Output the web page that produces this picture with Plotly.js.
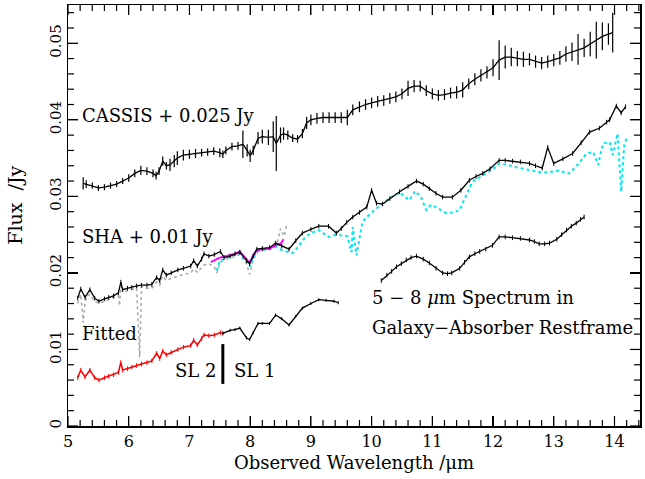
<!DOCTYPE html>
<html>
<head>
<meta charset="utf-8">
<script src="https://cdn.plot.ly/plotly-3.0.1.min.js"></script>
<style>html,body{margin:0;padding:0;background:#fff}#plot{width:645px;height:479px}</style>
</head>
<body>
<div id="plot"></div>
<script>
// CASSIS spectrum (offset by +0.025 Jy) with 1-sigma uncertainties
const cassisX = [5.25,5.3,5.4,5.5,5.6,5.7,5.8,5.9,6.0,6.1,6.2,6.3,6.4,6.45,6.5,6.56,6.62,6.68,6.75,6.8,6.9,7.0,7.1,7.2,7.3,7.4,7.5,7.55,7.6,7.7,7.8,7.88,7.95,8.0,8.05,8.13,8.2,8.3,8.38,8.43,8.5,8.55,8.62,8.7,8.78,8.86,8.93,9.0,9.1,9.2,9.3,9.4,9.5,9.6,9.69,9.8,9.9,10.0,10.1,10.2,10.3,10.4,10.5,10.6,10.7,10.8,10.9,11.0,11.1,11.2,11.3,11.4,11.5,11.6,11.7,11.8,11.9,12.0,12.1,12.2,12.3,12.4,12.5,12.6,12.7,12.8,12.9,13.0,13.1,13.2,13.3,13.4,13.5,13.6,13.7,13.8,13.9,13.97];
const cassisY = [0.0317,0.0316,0.0314,0.0311,0.0312,0.0314,0.0316,0.0320,0.0324,0.0330,0.0334,0.0333,0.0330,0.0327,0.0333,0.0346,0.0340,0.0341,0.0346,0.0350,0.0354,0.0355,0.0356,0.0357,0.0358,0.0359,0.0357,0.0355,0.0360,0.0365,0.0366,0.0368,0.0360,0.0353,0.0360,0.0376,0.0378,0.0377,0.0378,0.0369,0.0380,0.0382,0.0380,0.0376,0.0375,0.0382,0.0396,0.0400,0.0402,0.0403,0.0403,0.0403,0.0403,0.0403,0.0413,0.0417,0.0420,0.0422,0.0424,0.0425,0.0428,0.0430,0.0434,0.0441,0.0444,0.0444,0.0438,0.0434,0.0432,0.0433,0.0435,0.0436,0.0439,0.0447,0.0453,0.0458,0.0462,0.0468,0.0478,0.0482,0.0482,0.0480,0.0479,0.0479,0.0476,0.0474,0.0476,0.0478,0.0481,0.0486,0.0489,0.0492,0.0494,0.0499,0.0504,0.0509,0.0512,0.0514];
const cassisErr = [0.0008,0.0005,0.0004,0.0004,0.0004,0.0004,0.0004,0.0004,0.0005,0.0005,0.0006,0.0005,0.0005,0.0005,0.0005,0.0006,0.0005,0.0008,0.0008,0.0009,0.0007,0.0006,0.0006,0.0005,0.0005,0.0005,0.0006,0.0005,0.0005,0.0005,0.0005,0.0018,0.0008,0.0008,0.0006,0.0008,0.0009,0.0010,0.0020,0.0036,0.0010,0.0008,0.0006,0.0005,0.0005,0.0006,0.0008,0.0007,0.0007,0.0007,0.0007,0.0007,0.0007,0.0010,0.0007,0.0007,0.0007,0.0007,0.0007,0.0007,0.0007,0.0007,0.0007,0.0010,0.0008,0.0007,0.0007,0.0007,0.0007,0.0007,0.0007,0.0008,0.0010,0.0007,0.0008,0.0008,0.0008,0.0011,0.0026,0.0015,0.0012,0.0010,0.0010,0.0008,0.0008,0.0008,0.0008,0.0008,0.0009,0.0010,0.0012,0.0020,0.0012,0.0016,0.0024,0.0018,0.0014,0.0026];

// SHA spectrum (offset by +0.01 Jy), SL2 + SL1
const shaX = [5.16,5.21,5.28,5.36,5.44,5.51,5.6,5.67,5.75,5.83,5.87,5.9,5.98,6.05,6.13,6.21,6.3,6.38,6.46,6.51,6.56,6.62,6.7,6.81,6.9,7.02,7.07,7.13,7.2,7.24,7.32,7.41,7.51,7.57,7.67,7.75,7.83,7.94,7.99,8.05,8.11,8.2,8.32,8.42,8.52,8.64,8.75,8.86,9.0,9.13,9.29,9.42,9.5,9.59,9.69,9.8,9.92,10.0,10.08,10.18,10.3,10.46,10.6,10.74,10.85,10.95,11.06,11.17,11.33,11.47,11.61,11.72,11.83,11.95,12.1,12.2,12.32,12.45,12.6,12.7,12.81,12.9,13.0,13.15,13.31,13.45,13.59,13.75,13.87,13.92,14.03,14.11,14.18];
const shaY = [0.0167,0.0179,0.0168,0.0178,0.0167,0.0163,0.0166,0.0168,0.0170,0.0174,0.0188,0.0178,0.0180,0.0181,0.0183,0.0184,0.0184,0.0185,0.0194,0.0190,0.0204,0.0197,0.0200,0.0204,0.0206,0.0209,0.0216,0.0209,0.0218,0.0225,0.0222,0.0224,0.0228,0.0220,0.0222,0.0225,0.0227,0.0216,0.0212,0.0222,0.0231,0.0232,0.0233,0.0239,0.0235,0.0231,0.0242,0.0252,0.0257,0.0261,0.0261,0.0252,0.0258,0.0266,0.0273,0.0279,0.0286,0.0308,0.0291,0.0290,0.0297,0.0306,0.0313,0.0320,0.0316,0.0310,0.0304,0.0299,0.0299,0.0308,0.0321,0.0326,0.0330,0.0336,0.0347,0.0347,0.0346,0.0345,0.0343,0.0340,0.0337,0.0364,0.0343,0.0349,0.0356,0.0370,0.0384,0.0389,0.0397,0.0400,0.0418,0.0409,0.0417];

// Alternative SHA reduction, long-wavelength part (dotted cyan)
const altX = [7.45,7.5,7.57,7.67,7.75,7.83,7.94,7.99,8.05,8.11,8.2,8.32,8.42,8.52,8.6,8.7,8.8,8.9,9.0,9.13,9.29,9.42,9.5,9.6,9.67,9.69,9.75,9.85,9.92,10.05,10.18,10.3,10.46,10.54,10.62,10.72,10.82,10.9,10.98,11.1,11.23,11.35,11.45,11.55,11.66,11.78,11.89,12.0,12.1,12.25,12.38,12.5,12.6,12.7,12.81,12.95,13.09,13.18,13.26,13.4,13.54,13.65,13.73,13.81,13.92,13.97,14.05,14.11,14.16,14.21];
const altY = [0.0203,0.0216,0.0218,0.0221,0.0224,0.0226,0.0214,0.0208,0.0220,0.0228,0.0230,0.0231,0.0234,0.0230,0.0228,0.0226,0.0235,0.0246,0.0252,0.0256,0.0247,0.0250,0.0249,0.0248,0.0227,0.0260,0.0223,0.0267,0.0273,0.0282,0.0291,0.0298,0.0305,0.0300,0.0295,0.0307,0.0298,0.0282,0.0289,0.0284,0.0278,0.0279,0.0282,0.0300,0.0319,0.0325,0.0330,0.0336,0.0343,0.0341,0.0338,0.0336,0.0334,0.0332,0.0331,0.0332,0.0334,0.0331,0.0330,0.0342,0.0356,0.0358,0.0341,0.0369,0.0371,0.0354,0.0382,0.0306,0.0367,0.0378];

// Short-wavelength comparison spectrum (dashed grey)
const greyX = [5.16,5.21,5.25,5.28,5.31,5.36,5.44,5.51,5.6,5.67,5.75,5.83,5.85,5.87,5.95,6.05,6.13,6.18,6.21,6.26,6.38,6.46,6.51,6.56,6.62,6.7,6.81,6.9,7.02,7.07,7.13,7.24,7.32,7.41,7.45,7.51,7.6,7.7,7.83,7.94,7.99,8.05,8.13,8.25,8.35,8.45,8.5,8.56,8.6];
const greyY = [0.0160,0.0172,0.0135,0.0162,0.0170,0.0172,0.0163,0.0160,0.0163,0.0165,0.0168,0.0170,0.0157,0.0182,0.0176,0.0178,0.0180,0.0090,0.0182,0.0180,0.0180,0.0188,0.0184,0.0196,0.0190,0.0193,0.0196,0.0198,0.0200,0.0205,0.0201,0.0210,0.0212,0.0208,0.0200,0.0214,0.0218,0.0220,0.0224,0.0212,0.0198,0.0218,0.0228,0.0230,0.0234,0.0240,0.0258,0.0248,0.0262];

// Overlap segment (magenta)
const magX = [7.35,7.42,7.5,7.57,7.67,7.75,7.83,7.94,7.99,8.05,8.11,8.2,8.32,8.42,8.5,8.55];
const magY = [0.0214,0.0217,0.0220,0.0221,0.0223,0.0225,0.0228,0.0217,0.0213,0.0223,0.0230,0.0231,0.0232,0.0236,0.0238,0.0244];

// Fitted spectrum: SL2 part (red) and SL1 part (black)
const fitSL2X = [5.16,5.21,5.28,5.36,5.44,5.51,5.6,5.67,5.75,5.83,5.87,5.9,5.98,6.05,6.13,6.21,6.3,6.38,6.46,6.51,6.56,6.62,6.7,6.81,6.9,7.02,7.07,7.13,7.2,7.24,7.32,7.41,7.51,7.55];
const fitSL2Y = [0.0063,0.0073,0.0064,0.0073,0.0063,0.0060,0.0063,0.0065,0.0067,0.0070,0.0083,0.0073,0.0075,0.0077,0.0079,0.0081,0.0083,0.0085,0.0095,0.0088,0.0098,0.0093,0.0096,0.0100,0.0103,0.0105,0.0112,0.0106,0.0114,0.0119,0.0118,0.0119,0.0122,0.0121];
const fitSL1X = [7.55,7.67,7.75,7.83,7.94,7.99,8.05,8.13,8.2,8.32,8.42,8.52,8.64,8.75,8.86,9.0,9.13,9.25,9.38,9.45];
const fitSL1Y = [0.0121,0.0125,0.0126,0.0128,0.0115,0.0113,0.0122,0.0134,0.0134,0.0134,0.0145,0.0140,0.0132,0.0143,0.0154,0.0160,0.0165,0.0164,0.0163,0.0161];

// 5-8 micron spectrum shifted to the galaxy-absorber rest frame
const restX = [10.16,10.25,10.33,10.41,10.49,10.57,10.65,10.74,10.85,10.95,11.06,11.17,11.25,11.32,11.45,11.53,11.61,11.7,11.78,11.88,11.99,12.1,12.2,12.32,12.45,12.6,12.68,12.76,12.85,12.93,13.05,13.13,13.21,13.29,13.37,13.44,13.5];
const restY = [0.0190,0.0197,0.0202,0.0208,0.0212,0.0217,0.0220,0.0222,0.0218,0.0213,0.0206,0.0200,0.0199,0.0200,0.0206,0.0214,0.0221,0.0225,0.0228,0.0231,0.0236,0.0247,0.0247,0.0246,0.0245,0.0243,0.0241,0.0238,0.0238,0.0239,0.0244,0.0250,0.0256,0.0261,0.0265,0.0270,0.0273];

// Axis ticks: labelled majors and unlabelled minor steps
const xTicks = [5,6,7,8,9,10,11,12,13,14];
const yTicks = [0,0.01,0.02,0.03,0.04,0.05];
const xMinorStep = 0.2;
const yMinorStep = 0.002;
const xRange = [5, 14.42];
const yRange = [0, 0.055];

const font = 'DejaVu Serif, Liberation Serif, serif';

// Plot-area size in pixels, used to give frame tick marks a fixed length
const plotW = 645 - 68 - 5;
const plotH = 479 - 5 - 53;
const majLen = 10, minLen = 6;

// Inward tick marks on all four sides of the frame
const frameTicks = [];
const tickLine = {color: '#000', width: 1.2};
for (let i = 0; xRange[0] + i * xMinorStep <= xRange[1] + 1e-9; i++) {
  const v = +(xRange[0] + i * xMinorStep).toFixed(6);
  const len = (xTicks.includes(v) ? majLen : minLen) / plotH;
  frameTicks.push({type: 'line', xref: 'x', yref: 'paper', x0: v, x1: v, y0: 0, y1: len, line: tickLine});
  frameTicks.push({type: 'line', xref: 'x', yref: 'paper', x0: v, x1: v, y0: 1, y1: 1 - len, line: tickLine});
}
for (let i = 0; yRange[0] + i * yMinorStep <= yRange[1] + 1e-12; i++) {
  const v = +(yRange[0] + i * yMinorStep).toFixed(6);
  const len = (yTicks.includes(v) ? majLen : minLen) / plotW;
  frameTicks.push({type: 'line', xref: 'paper', yref: 'y', x0: 0, x1: len, y0: v, y1: v, line: tickLine});
  frameTicks.push({type: 'line', xref: 'paper', yref: 'y', x0: 1, x1: 1 - len, y0: v, y1: v, line: tickLine});
}

const traces = [
  {x: greyX, y: greyY, mode: 'lines', line: {color: '#a8a8a8', width: 1.5, dash: 'dot'}},
  {x: altX, y: altY, mode: 'lines', line: {color: '#00e8ef', width: 2, dash: 'dot'}},
  {x: magX, y: magY, mode: 'lines', line: {color: '#ff00ff', width: 2}},
  {x: shaX, y: shaY, mode: 'lines', line: {color: '#000', width: 1.3},
   error_y: {type: 'constant', value: 0.0003, width: 0, thickness: 1, color: '#000'}},
  {x: cassisX, y: cassisY, mode: 'lines', line: {color: '#000', width: 1.3},
   error_y: {type: 'data', array: cassisErr, width: 0, thickness: 1.2, color: '#000'}},
  {x: fitSL2X, y: fitSL2Y, mode: 'lines', line: {color: '#ff0000', width: 1.5},
   error_y: {type: 'constant', value: 0.0003, width: 0, thickness: 1, color: '#ff0000'}},
  {x: fitSL1X, y: fitSL1Y, mode: 'lines', line: {color: '#000', width: 1.3},
   error_y: {type: 'constant', value: 0.0002, width: 0, thickness: 1, color: '#000'}},
  {x: restX, y: restY, mode: 'lines', line: {color: '#000', width: 1.3},
   error_y: {type: 'constant', value: 0.0003, width: 0, thickness: 1, color: '#000'}}
];

const ann = (x, y, text, anchor) => ({x, y, xref: 'x', yref: 'y', text, showarrow: false,
  xanchor: anchor || 'left', yanchor: 'middle', font: {family: font, size: 18, color: '#000'}});

const layout = {
  width: 645, height: 479,
  margin: {l: 68, r: 5, t: 5, b: 53},
  showlegend: false,
  xaxis: {
    range: xRange, dtick: xTicks[1] - xTicks[0],
    ticks: 'inside', ticklen: majLen, tickwidth: 1.2, tickcolor: 'black',
    showline: true, linecolor: 'black', linewidth: 1.5, mirror: 'allticks', showgrid: false, zeroline: false,
    tickfont: {family: font, size: 16, color: 'black'},
    title: {text: 'Observed Wavelength /μm', font: {family: font, size: 18, color: 'black'}, standoff: 6}
  },
  yaxis: {
    range: yRange, dtick: yTicks[1] - yTicks[0],
    ticks: 'inside', ticklen: majLen, tickwidth: 1.2, tickcolor: 'black',
    showline: true, linecolor: 'black', linewidth: 1.5, mirror: 'allticks', showgrid: false, zeroline: false,
    tickangle: -90, tickfont: {family: font, size: 15, color: 'black'}
  },
  shapes: frameTicks.concat([
    {type: 'line', xref: 'x', yref: 'y', x0: 7.55, x1: 7.55, y0: 0.0055, y1: 0.0107, line: {color: '#000', width: 3}}
  ]),
  annotations: [
    {x: -0.093, y: 0.525, xref: 'paper', yref: 'paper', text: 'Flux&nbsp; /Jy', textangle: -90,
     showarrow: false, xanchor: 'center', yanchor: 'middle', font: {family: font, size: 19, color: '#000'}},
    ann(5.2, 0.0405, 'CASSIS + 0.025 Jy'),
    ann(5.2, 0.0248, 'SHA + 0.01 Jy'),
    ann(5.2, 0.0121, 'Fitted'),
    ann(7.47, 0.0073, 'SL 2', 'right'),
    ann(7.7, 0.0073, 'SL 1'),
    ann(9.98, 0.0168, '5 − 8 <i>μ</i>m Spectrum in'),
    ann(9.98, 0.0129, 'Galaxy−Absorber Restframe')
  ]
};

Plotly.newPlot('plot', traces, layout, {staticPlot: true, displayModeBar: false});
</script>
</body>
</html>
